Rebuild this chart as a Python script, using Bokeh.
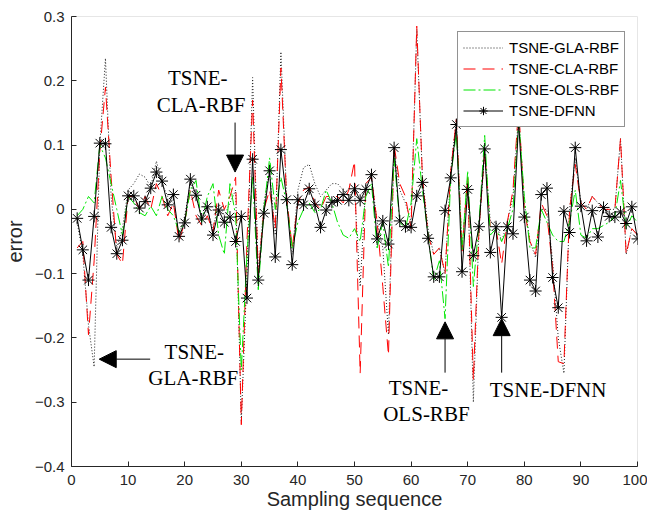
from bokeh.plotting import figure
from bokeh.models import Range1d, FixedTicker, Label, Arrow, NormalHead, Legend
from bokeh.embed import file_html
from bokeh.resources import INLINE

samples = list(range(1, 101))

gla = [-0.02, -0.07, -0.18, -0.245, 0.10, 0.235, 0.02, -0.06, -0.03, 0.03,
       0.04, 0.055, 0.05, 0.035, 0.075, 0.04, 0.02, 0.01, -0.04, -0.01,
       0.04, 0.02, -0.01, 0.00, -0.03, 0.01, -0.01, 0.01, 0.03, -0.33,
       -0.10, 0.205, -0.10, 0.01, 0.06, -0.04, 0.245, 0.02, -0.07, 0.03,
       0.065, 0.07, 0.04, 0.02, 0.03, 0.04, 0.04, 0.03, 0.02, 0.03,
       -0.12, 0.04, 0.05, -0.02, -0.06, -0.195, 0.09, 0.03, 0.01, -0.02,
       0.28, 0.05, -0.03, -0.07, -0.06, -0.10, 0.06, 0.14, -0.06, 0.05,
       -0.30, -0.03, 0.09, -0.02, -0.02, -0.05, -0.02, 0.02, 0.15, 0.01,
       -0.05, -0.075, 0.00, 0.00, -0.08, -0.20, -0.255, 0.00, 0.08, 0.01,
       0.00, 0.02, 0.01, 0.00, 0.00, 0.00, 0.11, -0.07, -0.03, -0.04]

cla = [-0.06, -0.05, -0.195, -0.08, 0.09, 0.19, 0.05, -0.07, -0.085, 0.02,
       0.02, 0.00, 0.02, 0.00, 0.04, 0.02, -0.01, 0.01, -0.05, -0.02,
       0.03, -0.01, -0.025, -0.01, -0.035, 0.03, 0.00, 0.02, 0.05, -0.335,
       -0.05, 0.17, -0.10, 0.00, 0.03, -0.03, 0.22, 0.02, -0.06, 0.01,
       0.03, 0.035, 0.01, 0.00, 0.02, 0.02, 0.02, 0.01, 0.03, 0.075,
       -0.255, 0.04, 0.05, -0.02, -0.12, -0.227, 0.10, 0.04, 0.02, -0.03,
       0.285, 0.05, -0.04, -0.07, -0.06, -0.10, 0.06, 0.14, -0.065, 0.05,
       -0.265, -0.03, 0.09, -0.03, -0.03, -0.085, -0.02, 0.03, 0.16, 0.00,
       -0.05, -0.07, 0.01, -0.01, -0.09, -0.237, -0.24, 0.00, 0.07, 0.01,
       0.00, 0.02, 0.01, 0.00, 0.00, 0.00, 0.11, -0.07, -0.03, -0.04]

ols = [-0.01, 0.00, 0.02, 0.01, 0.10, 0.08, 0.04, 0.00, -0.04, 0.02,
       0.01, -0.005, -0.01, 0.005, -0.01, 0.02, 0.00, -0.01, -0.035, -0.02,
       0.03, 0.045, -0.02, 0.02, 0.04, -0.04, -0.07, 0.04, -0.01, -0.25,
       -0.07, 0.05, -0.125, 0.00, 0.08, 0.00, 0.05, 0.01, -0.06, -0.02,
       0.00, 0.01, -0.005, 0.00, 0.03, 0.01, -0.02, -0.04, -0.045, -0.03,
       -0.05, 0.02, 0.04, -0.06, -0.02, -0.09, 0.08, -0.02, -0.03, 0.01,
       0.11, 0.03, -0.04, -0.11, -0.08, -0.17, 0.05, 0.12, -0.065, 0.06,
       -0.12, -0.02, 0.115, -0.04, -0.03, -0.05, -0.03, 0.00, 0.14, 0.02,
       -0.06, -0.06, 0.00, -0.02, -0.04, -0.05, -0.05, -0.02, 0.03, -0.04,
       -0.045, -0.03, -0.03, -0.025, -0.02, -0.01, 0.045, -0.03, -0.01, -0.02]

dfnn = [-0.014, -0.063, -0.110, -0.011, 0.103, 0.102, -0.028, -0.069, -0.048, 0.021,
        0.021, 0.002, 0.012, 0.033, 0.058, 0.044, 0.007, 0.023, -0.042, -0.021,
        0.047, 0.022, -0.015, 0.004, -0.040, -0.001, -0.020, -0.012, -0.050, -0.011,
        -0.138, 0.078, -0.110, -0.006, 0.060, -0.074, 0.093, 0.015, -0.086, 0.015,
        0.007, 0.032, 0.007, -0.028, -0.001, 0.011, 0.014, 0.023, 0.014, 0.032,
        0.014, 0.031, 0.054, -0.046, -0.018, -0.054, 0.096, -0.018, -0.027, -0.028,
        0.021, 0.042, -0.045, -0.105, -0.105, -0.002, 0.049, 0.132, -0.097, 0.031,
        -0.072, -0.027, 0.094, -0.067, -0.027, -0.168, -0.027, -0.038, 0.135, -0.012,
        -0.110, -0.127, 0.023, 0.033, -0.106, -0.153, -0.003, -0.036, 0.096, 0.005,
        -0.049, -0.002, -0.043, 0.003, -0.011, -0.012, -0.004, -0.022, 0.004, -0.046]

series_names = ["TSNE-GLA-RBF", "TSNE-CLA-RBF", "TSNE-OLS-RBF", "TSNE-DFNN"]

x_ticks = [0, 10, 20, 30, 40, 50, 60, 70, 80, 90, 100]
y_ticks = [-0.4, -0.3, -0.2, -0.1, 0, 0.1, 0.2, 0.3]

# annotation texts: (text, x, y)
notes = [
    ("TSNE-", 22.3, 0.205), ("CLA-RBF", 22.9, 0.163),
    ("TSNE-", 21.7, -0.222), ("GLA-RBF", 21.5, -0.263),
    ("TSNE-", 61.3, -0.278), ("OLS-RBF", 62.7, -0.318),
    ("TSNE-DFNN", 84.2, -0.281),
]
# arrows: (x_start, y_start, x_end, y_end)
arrows = [
    (28.9, 0.135, 28.9, 0.058),
    (13.9, -0.233, 4.9, -0.233),
    (66.0, -0.254, 66.0, -0.175),
    (76.0, -0.254, 76.0, -0.170),
]

p = figure(width=647, height=513, output_backend="svg", toolbar_location=None,
           x_range=Range1d(0, 100), y_range=Range1d(-0.4, 0.3),
           min_border_left=70, min_border_right=10, min_border_top=16, min_border_bottom=47)
p.background_fill_color = "white"
p.border_fill_color = "white"
p.outline_line_color = "#e6e6e6"
p.xgrid.visible = False
p.ygrid.visible = False

r1 = p.line(samples, gla, line_color="#222222", line_width=1, line_dash="1 2")
r2 = p.line(samples, cla, line_color="#ff0000", line_width=1, line_dash="12 7")
r3 = p.line(samples, ols, line_color="#00e600", line_width=1, line_dash="12 3 2 3")
r4 = p.line(samples, dfnn, line_color="black", line_width=1)
r5 = p.scatter(samples, dfnn, marker="asterisk", size=12, line_color="black", line_width=1)

legend = Legend(items=[(series_names[0], [r1]), (series_names[1], [r2]),
                       (series_names[2], [r3]), (series_names[3], [r4, r5])],
                location=(386, 339))
legend.label_text_font = "Liberation Sans"
legend.label_text_font_size = "15px"
legend.label_text_color = "black"
legend.glyph_width = 40
legend.glyph_height = 21
legend.label_height = 21
legend.spacing = 0
legend.padding = 5
legend.margin = 0
legend.label_standoff = 6
legend.border_line_color = "#262626"
legend.border_line_width = 1
legend.background_fill_color = "white"
legend.background_fill_alpha = 1
p.add_layout(legend)

for ax in (p.xaxis[0], p.yaxis[0]):
    ax.major_tick_in = 5
    ax.major_tick_out = 0
    ax.minor_tick_line_color = None
    ax.axis_line_color = "#262626"
    ax.major_tick_line_color = "#262626"
    ax.major_label_text_font = "Liberation Sans"
    ax.major_label_text_font_size = "15px"
    ax.major_label_text_color = "#262626"
    ax.axis_label_text_font = "Liberation Sans"
    ax.axis_label_text_font_size = "20px"
    ax.axis_label_text_font_style = "normal"
    ax.axis_label_text_color = "#262626"

p.xaxis.ticker = FixedTicker(ticks=x_ticks)
p.yaxis.ticker = FixedTicker(ticks=y_ticks)
p.yaxis.major_label_overrides = {0: "0"}
p.xaxis.axis_label = "Sampling sequence"
p.yaxis.axis_label = "error"
p.xaxis.major_label_standoff = 8
p.xaxis.axis_label_standoff = 0
p.yaxis.major_label_standoff = 7
p.yaxis.axis_label_standoff = 6

for txt, tx, ty in notes:
    p.add_layout(Label(x=tx, y=ty, text=txt, text_align="center", text_baseline="middle",
                       text_font="Liberation Serif", text_font_size="21px", text_color="black"))

for xs, ys, xe, ye in arrows:
    p.add_layout(Arrow(end=NormalHead(size=17, fill_color="black", line_color="black"),
                       x_start=xs, y_start=ys, x_end=xe, y_end=ye,
                       line_color="black", line_width=1))

open("out.html", "w").write(file_html(p, INLINE))
